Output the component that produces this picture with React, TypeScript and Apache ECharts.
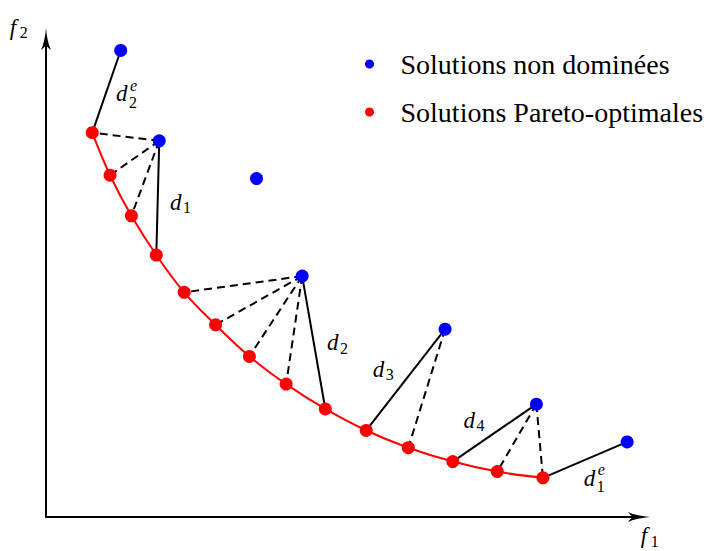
import React, { useEffect, useRef } from "react";
import * as echarts from "echarts";

// Pareto-optimal solutions (f1, f2), ordered along the front
const paretoF1 = [0.78, 1.08, 1.44, 1.86, 2.33, 2.86, 3.43, 4.05, 4.71, 5.4, 6.11, 6.86, 7.61, 8.38];
const paretoF2 = [8.04, 7.15, 6.3, 5.48, 4.7, 4.02, 3.36, 2.78, 2.26, 1.81, 1.45, 1.16, 0.95, 0.82];

// Non-dominated solutions (f1, f2)
const nonDomF1 = [1.26, 1.91, 3.55, 4.32, 6.73, 8.27, 9.8];
const nonDomF2 = [9.76, 7.87, 7.08, 5.04, 3.93, 2.36, 1.57];

// Distance links: [non-dominated index, pareto index]
const solidLinks = [[0, 0], [1, 3], [3, 8], [4, 9], [5, 11], [6, 13]];
const dashedLinks = [[1, 0], [1, 1], [1, 2], [3, 4], [3, 5], [3, 6], [3, 7], [4, 10], [5, 12], [5, 13]];

const seriesNames = ["Solutions non dominées", "Solutions Pareto-optimales"];

// Math annotations: base letter, subscript, optional superscript, anchor (baseline-left, data units)
const mathLabels = [
  { base: "d", sub: "2", sup: "e", at: [1.18, 8.69] },
  { base: "d", sub: "1", sup: "", at: [2.09, 6.42] },
  { base: "d", sub: "2", sup: "", at: [4.74, 3.48] },
  { base: "d", sub: "3", sup: "", at: [5.51, 2.92] },
  { base: "d", sub: "4", sup: "", at: [7.04, 1.86] },
  { base: "d", sub: "1", sup: "e", at: [9.07, 0.65] },
  { base: "f", sub: "2", sup: "", at: [-0.61, 10.08] },
  { base: "f", sub: "1", sup: "", at: [10.03, -0.56] },
];

const BLUE = "#0000ff";
const RED = "#ff0000";
const SERIF = "Liberation Serif";
const ARROW = "path://M5 0C5.6 8 7.2 16 10 22C7.6 20 6.2 18.6 5 17.4C3.8 18.6 2.4 20 0 22C2.8 16 4.4 8 5 0Z";

const pareto = paretoF1.map((x, i) => [x, paretoF2[i]]);
const nonDom = nonDomF1.map((x, i) => [x, nonDomF2[i]]);
const linkData = (links: number[][]) =>
  links.map(([a, b]) => ({ coords: [nonDom[a], pareto[b]] }));

const axisCommon = {
  type: "value" as const,
  min: 0,
  max: 10,
  axisLine: {
    show: true,
    onZero: false,
    symbol: ["none", ARROW],
    symbolSize: [10, 22],
    lineStyle: { color: "#000", width: 2 },
  },
  axisTick: { show: false },
  axisLabel: { show: false },
  splitLine: { show: false },
};

// Baseline-anchored text placed with dominant-baseline central
const baselineY = (b: number, fs: number) => b - 0.34 * fs;

function buildLabels(chart: echarts.ECharts) {
  const elements: any[] = [];
  const mainFs = 23;
  const smallFs = 16;
  mathLabels.forEach((lbl) => {
    const p = chart.convertToPixel({ gridIndex: 0 }, lbl.at) as number[];
    const [x, b] = p;
    const subX = x + (lbl.base === "f" ? 10 : 13);
    elements.push({
      type: "text",
      silent: true,
      style: {
        text: lbl.base,
        x,
        y: baselineY(b, mainFs),
        fontSize: mainFs,
        fontStyle: "italic",
        fontFamily: SERIF,
        fill: "#000",
        verticalAlign: "middle",
      },
    });
    elements.push({
      type: "text",
      silent: true,
      style: {
        text: lbl.sub,
        x: subX,
        y: baselineY(b + (lbl.sup ? 6 : 3), smallFs),
        fontSize: smallFs,
        fontFamily: SERIF,
        fill: "#000",
        verticalAlign: "middle",
      },
    });
    if (lbl.sup) {
      elements.push({
        type: "text",
        silent: true,
        style: {
          text: lbl.sup,
          x: subX + 1,
          y: baselineY(b - 11, smallFs),
          fontSize: smallFs,
          fontStyle: "italic",
          fontFamily: SERIF,
          fill: "#000",
          verticalAlign: "middle",
        },
      });
    }
  });
  return elements;
}

export default function App() {
  const ref = useRef<HTMLDivElement>(null);

  useEffect(() => {
    if (!ref.current) return;
    const chart = echarts.init(ref.current, undefined, { renderer: "svg" });
    chart.setOption({
      animation: false,
      backgroundColor: "#ffffff",
      grid: { left: 46, right: 76, top: 39, bottom: 34, containLabel: false },
      xAxis: { ...axisCommon },
      yAxis: { ...axisCommon },
      legend: {
        data: seriesNames.map((name) => ({ name, icon: "circle" })),
        orient: "vertical",
        left: 365,
        top: 50,
        padding: 0,
        itemWidth: 52,
        itemHeight: 9,
        itemGap: 20,
        selectedMode: false,
        textStyle: { fontFamily: SERIF, fontSize: 28, color: "#000", lineHeight: 28 },
      },
      series: [
        {
          type: "lines",
          coordinateSystem: "cartesian2d",
          silent: true,
          z: 1,
          lineStyle: { color: "#000", width: 2, type: "solid", opacity: 1 },
          data: linkData(solidLinks),
        },
        {
          type: "lines",
          coordinateSystem: "cartesian2d",
          silent: true,
          z: 1,
          lineStyle: { color: "#000", width: 2, type: [8, 5], opacity: 1 },
          data: linkData(dashedLinks),
        },
        {
          type: "line",
          silent: true,
          z: 2,
          smooth: 0.4,
          showSymbol: false,
          lineStyle: { color: RED, width: 2 },
          data: pareto,
        },
        {
          name: seriesNames[0],
          type: "scatter",
          z: 3,
          symbol: "circle",
          symbolSize: 13,
          itemStyle: { color: BLUE, opacity: 1 },
          data: nonDom,
        },
        {
          name: seriesNames[1],
          type: "scatter",
          z: 3,
          symbol: "circle",
          symbolSize: 13,
          itemStyle: { color: RED, opacity: 1 },
          data: pareto,
        },
      ],
    });
    chart.setOption({ graphic: buildLabels(chart) });
    return () => chart.dispose();
  }, []);

  return (
    <div
      ref={ref}
      style={{ position: "absolute", left: 0, top: 0, width: 715, height: 551 }}
    />
  );
}
